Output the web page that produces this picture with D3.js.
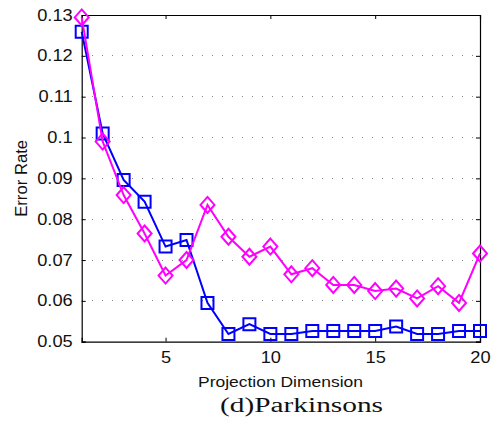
<!DOCTYPE html>
<html><head><meta charset="utf-8">
<script src="https://cdn.jsdelivr.net/npm/d3@7"></script>
<style>body{margin:0;background:#fff}svg{display:block}</style>
</head><body>
<svg id="c" width="499" height="428"></svg>
<script>
const dims = d3.range(1, 21);
const blueSeries = [0.1259,0.1010,0.0896,0.0843,0.0733,0.0749,0.0595,0.0519,0.0543,0.0519,0.0519,0.0526,0.0526,0.0526,0.0526,0.0537,0.0519,0.0519,0.0526,0.0526];
const magentaSeries = [0.1294,0.0990,0.0859,0.0765,0.0662,0.0700,0.0835,0.0757,0.0708,0.0733,0.0665,0.0680,0.0639,0.0639,0.0624,0.0630,0.0606,0.0636,0.0595,0.0716];
const xTicks = [5,10,15,20];
const yTicks = [0.05,0.06,0.07,0.08,0.09,0.10,0.11,0.12,0.13];
const yTickLabels = ["0.05","0.06","0.07","0.08","0.09","0.1","0.11","0.12","0.13"];
const xLabel = "Projection Dimension", yLabel = "Error Rate", caption = "(d)Parkinsons";

const L=81.7, R=480, T=15, B=341.7;
const svg = d3.select("#c");
const x = d3.scaleLinear().domain([1,20]).range([L,R]);
const y = d3.scaleLinear().domain([0.05,0.13]).range([B,T]);
const font = "'Liberation Sans', Arial, sans-serif";

// grid
svg.append("g").selectAll("line").data(yTicks.slice(1,-1)).join("line")
  .attr("x1",L).attr("x2",R).attr("y1",d=>y(d)).attr("y2",d=>y(d))
  .attr("stroke","#888").attr("stroke-width",1).attr("stroke-dasharray","1.5,8.5")
  .attr("shape-rendering","crispEdges");

// axes
svg.append("g").attr("transform",`translate(${L},0)`)
  .call(d3.axisLeft(y).tickValues(yTicks).tickSize(-4).tickPadding(9).tickFormat((d,i)=>yTickLabels[i]));
svg.append("g").attr("transform",`translate(0,${B})`)
  .call(d3.axisBottom(x).tickValues(xTicks).tickSize(-4).tickPadding(10).tickFormat(d3.format("d")));
svg.append("g").attr("transform",`translate(0,${T})`)
  .call(d3.axisTop(x).tickValues(xTicks).tickSize(-4).tickFormat(""));
svg.append("g").attr("transform",`translate(${R},0)`)
  .call(d3.axisRight(y).tickValues(yTicks).tickSize(-4).tickFormat(""));
svg.selectAll(".domain").attr("stroke","#000").attr("stroke-width",1.2);
svg.selectAll(".tick line").attr("stroke","#000");
svg.selectAll(".tick text").attr("font-family",font).attr("font-size",16).attr("fill","#111")
  .each(function(){ const w=this.getComputedTextLength(); if(w>0){ d3.select(this).attr("textLength",w*1.14).attr("lengthAdjust","spacingAndGlyphs"); } });

// lines & markers
const line = d3.line().x((d,i)=>x(dims[i])).y(d=>y(d));
function series(vals,color,shape){
  const g = svg.append("g");
  g.append("path").attr("d",line(vals)).attr("fill","none").attr("stroke",color).attr("stroke-width",2);
  g.selectAll("path.m").data(vals).join("path").attr("class","m")
    .attr("transform",(d,i)=>`translate(${x(dims[i])},${y(d)})`)
    .attr("d",shape).attr("fill","none").attr("stroke",color).attr("stroke-width",2);
}
series(blueSeries,"#0000ff","M-6,-6H6V6H-6Z");
series(magentaSeries,"#ff00ff","M0,-8L7,0L0,8L-7,0Z");

// labels
svg.append("text").attr("x",280.5).attr("y",386.7).attr("text-anchor","middle")
  .attr("font-family",font).attr("font-size",14).attr("fill","#111")
  .attr("textLength",165).attr("lengthAdjust","spacingAndGlyphs").text(xLabel);
svg.append("text").attr("transform",`translate(26.5,${(T+B)/2}) rotate(-90)`).attr("text-anchor","middle")
  .attr("font-family",font).attr("font-size",16).attr("fill","#111")
  .attr("textLength",77).attr("lengthAdjust","spacingAndGlyphs").text(yLabel);
svg.append("text").attr("x",301.5).attr("y",411.5).attr("text-anchor","middle")
  .attr("font-family","'Liberation Serif','Times New Roman',serif").attr("font-size",20.5).attr("fill","#111")
  .attr("textLength",163).attr("lengthAdjust","spacingAndGlyphs").text(caption);
</script>
</body></html>
